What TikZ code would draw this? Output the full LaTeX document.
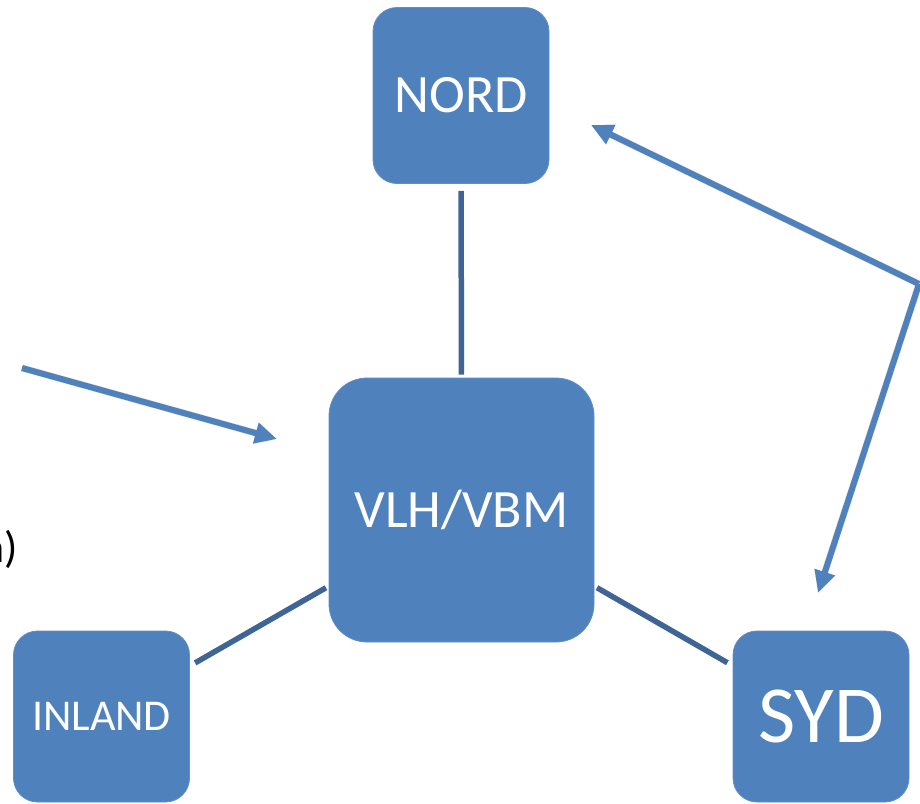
\documentclass[tikz,border=0pt]{standalone}
\usepackage{fontspec}
\setmainfont{Carlito}
\usetikzlibrary{arrows.meta,calc}
\definecolor{boxblue}{HTML}{4F81BD}
\definecolor{linkblue}{HTML}{3F6597}
\definecolor{arrowblue}{HTML}{4F81BD}
\tikzset{
  box/.style={fill=boxblue, draw=boxblue!90!white, line width=0.8pt, inner sep=0pt,
    text=white, rounded corners=#1, font=\fontsize{54}{60}\selectfont},
  box/.default=24pt,
  link/.style={draw=linkblue, line width=5.5pt},
  pointer/.style={draw=arrowblue, line width=6pt, -{Triangle[length=22pt,width=20pt]}},
  pshadow/.style={draw=black, opacity=0.12, line width=7pt, -{Triangle[length=22pt,width=21pt]}},
}
\begin{document}
\begin{tikzpicture}[x=1pt,y=-1pt]
\useasboundingbox (0,0) rectangle (920,803);
% nodes
\node[box, minimum width=176pt, minimum height=176pt] (nord) at (461,95.5) {NORD};
\node[box=38pt, minimum width=265pt, minimum height=264pt] (vlh) at (461.5,510) {VLH/VBM};
\node[box, minimum width=176pt, minimum height=171pt, font=\fontsize{44}{50}\selectfont] (inland) at (101.5,716.5) {INLAND};
\node[box, minimum width=176pt, minimum height=171pt, font=\fontsize{81}{90}\selectfont] (syd) at (821,716.5) {SYD};
% partial text at left edge
\node[anchor=base east, inner sep=0pt, font=\fontsize{44}{50}\selectfont] (frag) at (18,562) {n)};
% connectors
\draw[link, shorten <=7pt, shorten >=3pt] (nord.south) -- (vlh.north);
\draw[link, shorten <=6pt, shorten >=3pt] (inland) -- (vlh);
\draw[link, shorten <=6pt, shorten >=3pt] (syd) -- (vlh);
% arrows
\coordinate (corner) at (919,284);
\coordinate (leftstart) at (22,368);
\coordinate (tipvlh) at (277,439);
\coordinate (tipnord) at (591,125);
\coordinate (tipsyd) at (818,593);
\begin{scope}[shift={(2,4)}]
\draw[pshadow] (leftstart) -- (tipvlh);
\draw[pshadow] (corner) -- (tipnord);
\draw[pshadow] (corner) -- (tipsyd);
\end{scope}
\draw[pointer] (leftstart) -- (tipvlh);
\draw[pointer] (corner) -- (tipnord);
\draw[pointer] (corner) -- (tipsyd);
\end{tikzpicture}
\end{document}
